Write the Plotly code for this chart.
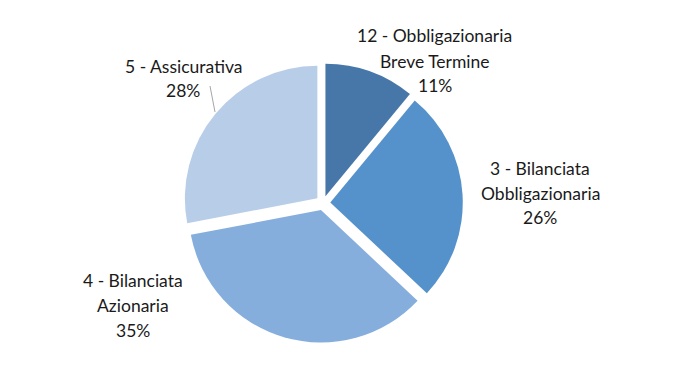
import plotly.graph_objects as go

categories = ["12 - Obbligazionaria Breve Termine", "3 - Bilanciata Obbligazionaria",
              "4 - Bilanciata Azionaria", "5 - Assicurativa"]
label_lines = [["12 - Obbligazionaria", "Breve Termine"],
               ["3 - Bilanciata", "Obbligazionaria"],
               ["4 - Bilanciata", "Azionaria"],
               ["5 - Assicurativa"]]
values = [11, 26, 35, 28]
colors = ["#4677A8", "#5592CB", "#85AEDD", "#B8CDE8"]

W, H = 680, 373
cx, cy, R, pull = 323, 203, 132.5, 0.055
half = R * (1 + pull)

fig = go.Figure(go.Pie(
    labels=categories, values=values, sort=False, direction="clockwise", rotation=0,
    marker=dict(colors=colors, line=dict(width=0)),
    pull=[pull] * len(values), textinfo="none", hoverinfo="label+percent",
    domain=dict(x=[(cx - half) / W, (cx + half) / W], y=[1 - (cy + half) / H, 1 - (cy - half) / H]),
    showlegend=False,
))

# label anchor positions (pixels: center x, first line y)
label_pos = [(435, 36), (540, 168), (133, 280), (183, 66)]
spacing = 25
total = sum(values)
font = dict(family="Lato, Carlito, Liberation Sans, sans-serif", size=17.5, color="#1a1a1a")
for lines, v, (x, y) in zip(label_lines, values, label_pos):
    texts = lines + [f"{round(100 * v / total)}%"]
    for i, t in enumerate(texts):
        fig.add_annotation(text=t, x=x / W, y=1 - (y + i * spacing) / H, xref="paper", yref="paper",
                           showarrow=False, xanchor="center", yanchor="middle", font=font)

# leader line for the Assicurativa label
fig.add_shape(type="line", xref="paper", yref="paper", x0=210 / W, y0=1 - 86 / H, x1=215 / W, y1=1 - 112 / H,
              line=dict(color="#A6A6A6", width=1))

fig.update_layout(width=W, height=H, margin=dict(l=0, r=0, t=0, b=0),
                  paper_bgcolor="white", plot_bgcolor="white")
fig.write_html("out.html", config={"displayModeBar": False},
               post_script="document.body.style.margin='0';")
